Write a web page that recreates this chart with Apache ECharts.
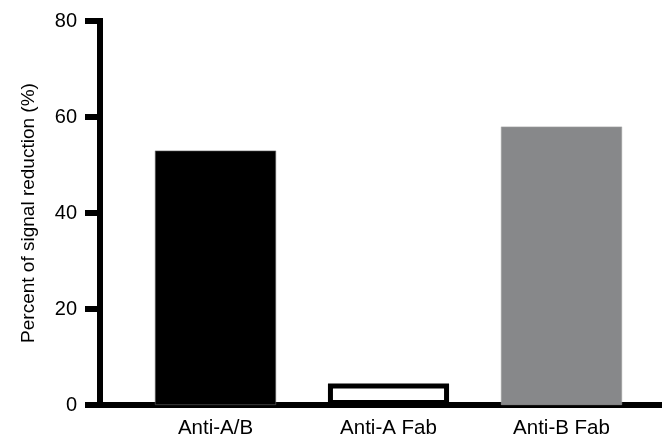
<!DOCTYPE html>
<html>
<head>
<meta charset="utf-8">
<script src="https://cdn.jsdelivr.net/npm/echarts@6/dist/echarts.min.js"></script>
<style>html,body{margin:0;padding:0;background:#fff}#c{width:665px;height:440px}</style>
</head>
<body>
<div id="c"></div>
<script>
var categories = ["Anti-A/B", "Anti-A Fab", "Anti-B Fab"];
var values = [53, 4.5, 58];
var yTicks = [0, 20, 40, 60, 80];
var yTitle = "Percent of signal reduction (%)";

var FONT = "'Liberation Sans', Arial, Helvetica, sans-serif";
var barStyles = [
  {color: "#000000", borderColor: "#666666", borderWidth: 0.6},
  {color: "#ffffff", borderColor: "#000000", borderWidth: 5},
  {color: "#87888a", borderColor: "#a0a0a0", borderWidth: 0.6}
];

var chart = echarts.init(document.getElementById('c'), null, {renderer: 'canvas'});
chart.setOption({
  animation: false,
  backgroundColor: '#ffffff',
  grid: [
    {left: 129, right: 17, top: 21, bottom: 35, containLabel: false},
    {left: 100, right: 6, top: 21, bottom: 35, containLabel: false}
  ],
  xAxis: [
    {
      type: 'category', gridIndex: 0, data: categories,
      axisLine: {show: false}, axisTick: {show: false},
      axisLabel: {color: '#000', fontSize: 20.5, fontFamily: FONT, margin: 13}
    },
    {
      type: 'value', gridIndex: 1, min: 0, max: 1,
      axisLine: {show: true, lineStyle: {color: '#000', width: 6, cap: 'square'}},
      axisTick: {show: false}, axisLabel: {show: false}, splitLine: {show: false}
    }
  ],
  yAxis: [
    {
      type: 'value', gridIndex: 1, min: yTicks[0], max: yTicks[yTicks.length - 1], interval: 20,
      name: yTitle, nameLocation: 'middle', nameGap: 62,
      nameTextStyle: {color: '#000', fontSize: 19, fontFamily: FONT},
      axisLine: {show: true, lineStyle: {color: '#000', width: 6, cap: 'square'}},
      axisTick: {show: true, length: 15, lineStyle: {color: '#000', width: 6}},
      axisLabel: {color: '#000', fontSize: 20, fontFamily: FONT, margin: 23},
      splitLine: {show: false}
    },
    {
      type: 'value', gridIndex: 0, min: 0, max: 80, show: false
    }
  ],
  series: [{
    type: 'bar', xAxisIndex: 0, yAxisIndex: 1,
    barWidth: '70%',
    data: values.map(function (v, i) { return {value: v, itemStyle: barStyles[i]}; })
  }]
});
</script>
</body>
</html>
